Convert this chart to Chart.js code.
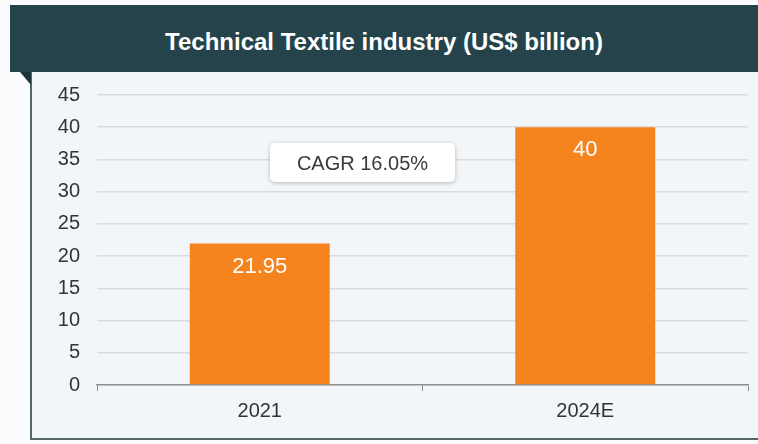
<!DOCTYPE html>
<html><head><meta charset="utf-8">
<script src="https://cdn.jsdelivr.net/npm/chart.js@4.4.1/dist/chart.umd.min.js"></script>
<style>
html,body{margin:0;padding:0;background:#f9fbfc;width:758px;height:444px;overflow:hidden;font-family:"Liberation Sans",Arial,sans-serif;}
#header{position:absolute;left:10px;top:5px;width:748px;height:67px;background:#24434a;color:#fff;font-weight:bold;font-size:24px;text-align:center;line-height:74px;}
#box{position:absolute;left:30px;top:72px;width:728px;height:366px;background:#f3f6f9;border-left:2px solid #55656a;border-bottom:2px solid #55656a;}
#fold{position:absolute;left:20px;top:72px;width:0;height:0;border-top:13px solid #1d3338;border-left:11px solid transparent;}
#cagr{position:absolute;left:270px;top:143px;width:185px;height:39px;background:#fff;border-radius:5px;box-shadow:0 1px 4px rgba(0,0,0,0.25);color:#3a3a3a;font-size:20px;text-align:center;line-height:41px;}
canvas{position:absolute;left:0;top:0;}
</style></head>
<body>
<div id="header">Technical Textile industry (US$ billion)</div>
<div id="box"></div>
<div id="fold"></div>
<canvas id="c" width="758" height="444"></canvas>
<div id="cagr">CAGR 16.05%</div>
<script>
const categories = ["2021", "2024E"];
const values = [21.95, 40];
const yTicks = [0,5,10,15,20,25,30,35,40,45];
const cagrText = "CAGR 16.05%";
document.getElementById('cagr').textContent = cagrText;

const barLabels = {
  id:'barLabels',
  afterDatasetsDraw(chart){
    const ctx = chart.ctx;
    const meta = chart.getDatasetMeta(0);
    ctx.save();
    ctx.fillStyle = '#ffffff';
    ctx.font = '22px "Liberation Sans", Arial, sans-serif';
    ctx.textAlign = 'center';
    ctx.textBaseline = 'middle';
    meta.data.forEach((bar,i)=>{
      ctx.fillText(String(values[i]), bar.x, bar.y + 23);
    });
    ctx.restore();
  }
};

new Chart(document.getElementById('c'), {
  type:'bar',
  data:{labels:categories, datasets:[{data:values, backgroundColor:'#f5841f', borderWidth:0, categoryPercentage:1, barPercentage:0.43}]},
  options:{
    responsive:false, animation:false,
    layout:{padding:{left:40, right:10, top:95, bottom:13}},
    plugins:{legend:{display:false}, tooltip:{enabled:false}},
    scales:{
      y:{min:0,max:45,
        afterBuildTicks(s){ s.ticks = yTicks.map(v=>({value:v})); },
        afterFit(s){ s.width = 57; },
        grid:{color:'#d8dcdf', lineWidth:1.5, drawTicks:false},
        border:{display:false},
        ticks:{color:'#333', padding:17, font:{size:20, family:'"Liberation Sans", Arial, sans-serif'}}
      },
      x:{
        grid:{drawOnChartArea:false, drawTicks:true, tickLength:6, color:'#8a9093', offset:true},
        border:{display:true, color:'#8a9093', width:1.5},
        ticks:{color:'#333', padding:8, font:{size:20, family:'"Liberation Sans", Arial, sans-serif'}}
      }
    }
  },
  plugins:[barLabels]
});
</script>
</body></html>
